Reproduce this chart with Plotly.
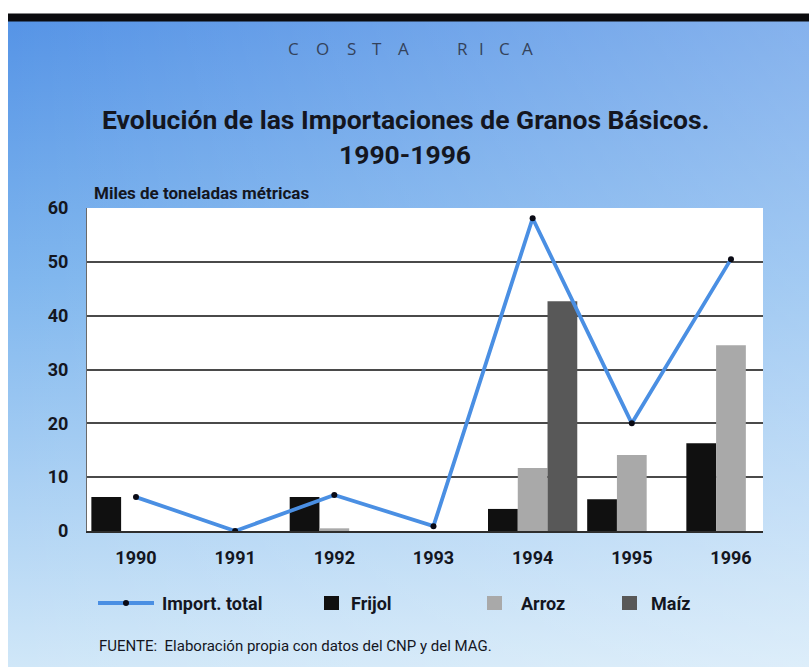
import base64
import plotly.graph_objects as go

# Imports of basic grains, Costa Rica (thousand metric tons)
years = ["1990", "1991", "1992", "1993", "1994", "1995", "1996"]
total = [6.3, 0.0, 6.7, 0.9, 58.1, 20.0, 50.5]
frijol = [6.3, 0.0, 6.3, 0.0, 4.1, 5.9, 16.3]
arroz = [0.0, 0.0, 0.5, 0.0, 11.7, 14.1, 34.5]
maiz = [0.0, 0.0, 0.0, 0.0, 42.7, 0.0, 0.0]
y_ticks = [0, 10, 20, 30, 40, 50, 60]

W, H = 809, 667
L, R, T, B = 87, 46, 208, 136
PW, PH = W - L - R, H - T - B

COND = "Roboto, Liberation Sans, sans-serif"
INK = "#14161f"
BLUE = "#4a8fe3"


def px(x):
    return (x - L) / PW


def py(y):
    return (H - B - y) / PH


fig = go.Figure()
fig.add_trace(go.Bar(x=years, y=frijol, name="Frijol", marker=dict(color="#101010", line_width=0)))
fig.add_trace(go.Bar(x=years, y=arroz, name="Arroz", marker=dict(color="#a9a9a9", line_width=0)))
fig.add_trace(go.Bar(x=years, y=maiz, name="Maíz", marker=dict(color="#585858", line_width=0)))
fig.add_trace(go.Scatter(x=years, y=total, name="Import. total", mode="lines+markers",
                         line=dict(color=BLUE, width=3.8),
                         marker=dict(color="#0a0a14", size=6)))

# soft blue backdrop
svg = f'''<svg xmlns="http://www.w3.org/2000/svg" width="801" height="646" viewBox="0 0 801 646" preserveAspectRatio="none">
<defs>
<linearGradient id="v" x1="0" y1="0" x2="0" y2="1">
<stop offset="0" stop-color="#5694e6"/>
<stop offset="0.4" stop-color="#7fb6ee"/>
<stop offset="1" stop-color="#d0e7f8"/>
</linearGradient>
<linearGradient id="h" x1="0" y1="0" x2="1" y2="0">
<stop offset="0" stop-color="#ffffff" stop-opacity="0"/>
<stop offset="1" stop-color="#ffffff" stop-opacity="0.28"/>
</linearGradient>
</defs>
<rect width="801" height="646" fill="url(#v)"/>
<rect width="801" height="646" fill="url(#h)"/>
</svg>'''
src = "data:image/svg+xml;base64," + base64.b64encode(svg.encode()).decode()

images = [dict(source=src, xref="paper", yref="paper", x=px(8), y=py(21),
               sizex=801 / PW, sizey=646 / PH, xanchor="left", yanchor="top",
               sizing="stretch", layer="below")]

shapes = [
    # header rule
    dict(type="rect", xref="paper", yref="paper", x0=px(8), x1=px(809), y0=py(21.5), y1=py(13.5),
         fillcolor="#0b0b0e", line_width=0, layer="below"),
    # white chart panel
    dict(type="rect", xref="paper", yref="paper", x0=0, x1=1, y0=0, y1=1,
         fillcolor="#ffffff", line_width=0, layer="below"),
    # legend keys
    dict(type="line", xref="paper", yref="paper", x0=px(98), x1=px(154), y0=py(603), y1=py(603),
         line=dict(color=BLUE, width=3.8)),
    dict(type="circle", xref="paper", yref="paper", x0=px(123), x1=px(129), y0=py(606), y1=py(600),
         fillcolor="#0a0a14", line_width=0),
    dict(type="rect", xref="paper", yref="paper", x0=px(324), x1=px(339), y0=py(610), y1=py(596),
         fillcolor="#101010", line_width=0),
    dict(type="rect", xref="paper", yref="paper", x0=px(487), x1=px(502), y0=py(610), y1=py(596),
         fillcolor="#a9a9a9", line_width=0),
    dict(type="rect", xref="paper", yref="paper", x0=px(622), x1=px(637), y0=py(610), y1=py(596),
         fillcolor="#585858", line_width=0),
]

annotations = []
# spaced country header
for ch, cx in zip("COSTARICA", [293, 322, 351, 377, 403, 462, 481, 504, 527]):
    annotations.append(dict(text=ch, xref="paper", yref="paper", x=px(cx), y=py(48),
                            showarrow=False, xanchor="center", yanchor="middle",
                            font=dict(family="Open Sans, sans-serif", size=17, color="#34425a")))
annotations += [
    dict(text="Evolución de las Importaciones de Granos Básicos.", xref="paper", yref="paper",
         x=px(405), y=py(120), showarrow=False, xanchor="center", yanchor="middle",
         font=dict(family=COND, size=26.5, color=INK, weight="bold")),
    dict(text="1990-1996", xref="paper", yref="paper",
         x=px(405), y=py(154), showarrow=False, xanchor="center", yanchor="middle",
         font=dict(family=COND, size=26.5, color=INK, weight="bold")),
    dict(text="Miles de toneladas métricas", xref="paper", yref="paper",
         x=px(92), y=py(193), showarrow=False, xanchor="left", yanchor="middle",
         font=dict(family=COND, size=17, color=INK, weight="bold")),
    dict(text="Import. total", xref="paper", yref="paper", x=px(160), y=py(603),
         showarrow=False, xanchor="left", yanchor="middle",
         font=dict(family=COND, size=18, color=INK, weight="bold")),
    dict(text="Frijol", xref="paper", yref="paper", x=px(349), y=py(603),
         showarrow=False, xanchor="left", yanchor="middle",
         font=dict(family=COND, size=18, color=INK, weight="bold")),
    dict(text="Arroz", xref="paper", yref="paper", x=px(519), y=py(603),
         showarrow=False, xanchor="left", yanchor="middle",
         font=dict(family=COND, size=18, color=INK, weight="bold")),
    dict(text="Maíz", xref="paper", yref="paper", x=px(649), y=py(603),
         showarrow=False, xanchor="left", yanchor="middle",
         font=dict(family=COND, size=18, color=INK, weight="bold")),
    dict(text="FUENTE:  Elaboración propia con datos del CNP y del MAG.", xref="paper", yref="paper",
         x=px(97), y=py(646), showarrow=False, xanchor="left", yanchor="middle",
         font=dict(family=COND, size=15, color=INK)),
]

fig.update_layout(
    width=W, height=H,
    margin=dict(l=L, r=R, t=T, b=B, pad=0),
    paper_bgcolor="#ffffff",
    plot_bgcolor="rgba(0,0,0,0)",
    barmode="group", bargap=0.1, bargroupgap=0,
    showlegend=False,
    images=images, shapes=shapes, annotations=annotations,
    xaxis=dict(type="category", range=[-0.494, 6.323], showgrid=False,
               showline=True, linecolor="#2e2e2e", linewidth=1.6,
               ticks="", ticklabelstandoff=10,
               tickfont=dict(family=COND, size=18, color=INK, weight="bold")),
    yaxis=dict(range=[0, 60], tickvals=y_ticks, showgrid=True, gridcolor="#4a4a4a", gridwidth=1.5,
               zeroline=False, showline=True, linecolor="#6a6a6a", linewidth=1.2,
               ticks="", ticklabelstandoff=14,
               tickfont=dict(family=COND, size=18, color=INK, weight="bold")),
)

fig.write_html("out.html")
